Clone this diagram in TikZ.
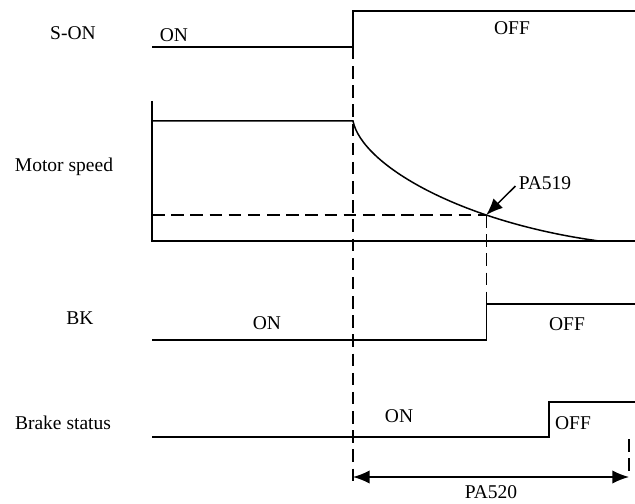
\documentclass[tikz,border=0pt]{standalone}
\usepackage{fontspec}
\setmainfont{Liberation Serif}
\usetikzlibrary{arrows.meta,positioning,calc}

\begin{document}
\begin{tikzpicture}[
    x=0.6pt, y=-0.6pt,
    wave/.style={line width=0.9pt},
    guide/.style={line width=0.8pt, dash pattern=on 7.5pt off 4pt},
    lbl/.style={inner sep=0pt, font=\fontsize{11.7}{14}\selectfont},
    tip/.style={-{Latex[length=10pt,width=8pt]}, line width=0.9pt},
    span/.style={{Latex[length=10pt,width=8pt]}-{Latex[length=10pt,width=8pt]}, line width=0.9pt}
]
    \useasboundingbox (0,0) rectangle (635,504);

    % Signal names
    \node[lbl] (son) at (73,33) {S-ON};
    \node[lbl] (speed) at (64,167) {Motor speed};
    \node[lbl] (bk) at (80,318) {BK};
    \node[lbl] (brake) at (63,423) {Brake status};

    % S-ON
    \draw[wave] (152,47) -- (353,47) coordinate (soff) -- (353,11) -- (635,11);
    \node[lbl] (sonon) at (174,35) {ON};
    \node[lbl] (sonoff) at (512,28) {OFF};

    % Motor speed
    \draw[wave] (152,101) -- (152,241) coordinate (origin) -- (635,241);
    \draw[wave] (152,121) -- (353,121) .. controls (362,165) and (460,222) .. (599,241)
        coordinate[pos=0.7] (cross);
    \node[lbl] (pa519) at (545,183) {PA519};

    % BK
    \coordinate (bklow) at (152,340);
    \coordinate (bkhigh) at (635,304);
    \draw[wave] (bklow) -- (cross |- bklow) -- (cross |- bkhigh) -- (bkhigh);
    \node[lbl] (bkon) at (267,323) {ON};
    \node[lbl] (bkoff) at (567,324) {OFF};

    % Brake status
    \draw[wave] (152,437) -- (549,437) -- (549,402) -- (635,402);
    \node[lbl] (brakeon) at (399,416) {ON};
    \node[lbl] (brakeoff) at (573,423) {OFF};

    % Timing guides
    \coordinate (arrL) at (353,477);
    \coordinate (arrR) at (629,477);
    \coordinate (brakeend) at (629,439);
    \draw[guide] (soff) -- ($(arrL)+(0,4)$);
    \draw[guide] (origin |- cross) -- (cross);
    \draw[guide] (cross) -- (cross |- bkhigh);
    \draw[guide] (brakeend) -- (arrR);

    % Arrows
    \draw[tip] ($(pa519.west)+(-3,3)$) -- (cross);
    \draw[span] (arrL) -- (arrR);
    \node[lbl, below=5pt of $(arrL)!0.5!(arrR)$] (pa520) {PA520};
\end{tikzpicture}
\end{document}
